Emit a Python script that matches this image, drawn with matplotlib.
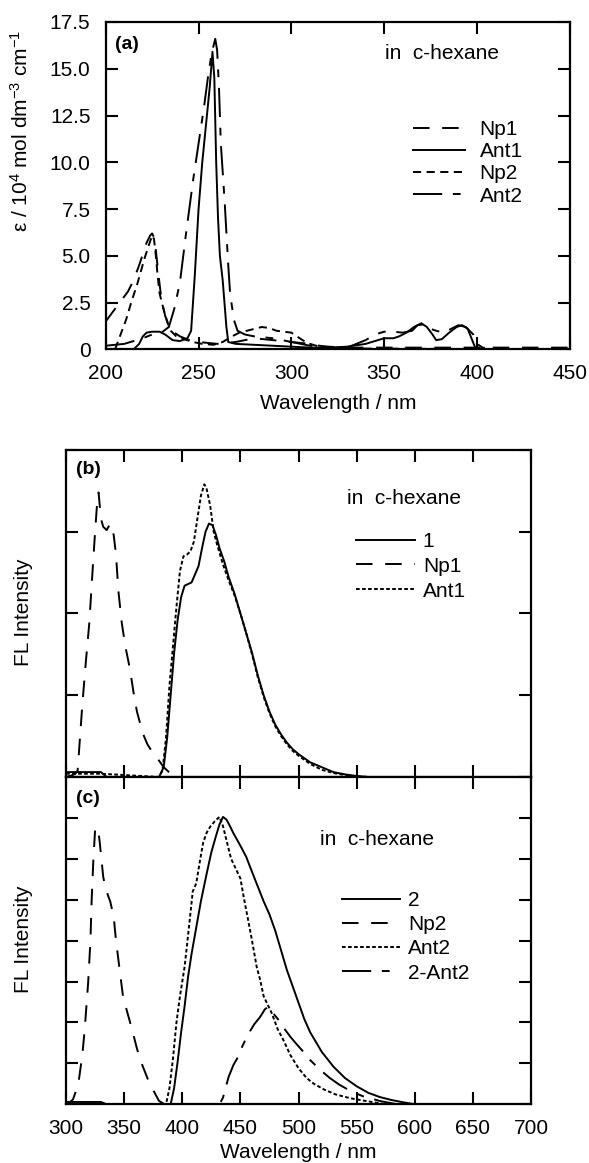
"""Absorption (a) and fluorescence (b, c) spectra in c-hexane, three stacked panels."""
import matplotlib
matplotlib.use("Agg")
import matplotlib.pyplot as plt

plt.rcParams["font.family"] = ["Liberation Sans", "DejaVu Sans"]
plt.rcParams["mathtext.fontset"] = "custom"
plt.rcParams["mathtext.rm"] = "Liberation Sans"
plt.rcParams["mathtext.it"] = "Liberation Sans:italic"

# ------------------------------------------------------------ (a) absorption
np1_a_wl = [200, 203, 206, 209, 212, 215, 218, 220, 222, 224, 225, 226, 227, 228,
            229, 230, 232, 234, 237, 240, 245, 250, 255, 260, 265, 270, 275, 280,
            285, 290, 295, 300, 305, 310, 315, 320, 330, 340, 350, 400, 450]
np1_a_eps = [1.5, 1.9, 2.3, 2.7, 3.1, 3.7, 4.5, 5.1, 5.7, 6.1, 6.2, 6.0, 5.3, 4.4,
             3.5, 2.7, 1.8, 1.3, 0.9, 0.7, 0.5, 0.4, 0.35, 0.3, 0.35, 0.4, 0.5, 0.6,
             0.55, 0.5, 0.45, 0.4, 0.35, 0.3, 0.2, 0.15, 0.1, 0.1, 0.1, 0.1, 0.1]

ant1_a_wl = [200, 215, 218, 220, 222, 225, 229, 232, 236, 240, 244, 246, 248, 250,
             252, 254, 256, 257.5, 258.5, 259.5, 260.5, 261.5, 263, 265, 266, 270,
             280, 290, 300, 310, 320, 330, 340, 345, 350, 355, 358, 362, 366, 370,
             373, 376, 378, 381, 385, 389, 392, 395, 397, 399, 405, 450]
ant1_a_eps = [0.0, 0.0, 0.3, 0.7, 0.9, 0.95, 0.95, 0.8, 0.5, 0.45, 0.6, 1.0, 4.0, 7.5,
              10.0, 12.0, 14.0, 15.9, 14.5, 10.0, 7.0, 5.0, 3.7, 1.2, 0.4, 0.3, 0.25,
              0.2, 0.15, 0.1, 0.1, 0.15, 0.3, 0.45, 0.6, 0.6, 0.7, 0.9, 1.2, 1.4, 1.2,
              0.8, 0.5, 0.55, 0.9, 1.2, 1.3, 1.1, 0.6, 0.1, 0.0, 0.0]

np2_a_wl = [205, 208, 211, 214, 217, 219, 221, 222, 224, 225, 226, 227, 228, 229,
            231, 233, 235, 238, 242, 247, 252, 258, 263, 268, 272, 276, 280, 284,
            288, 292, 296, 300, 303, 306, 310, 315, 320, 340, 450]
np2_a_eps = [0.0, 0.8, 1.6, 2.6, 3.5, 4.2, 4.9, 5.2, 5.8, 6.1, 5.9, 5.0, 3.9, 3.0,
             2.2, 1.5, 1.0, 0.7, 0.55, 0.4, 0.3, 0.25, 0.4, 0.7, 0.9, 1.0, 1.1, 1.2,
             1.15, 1.0, 0.95, 0.9, 0.7, 0.5, 0.3, 0.15, 0.1, 0.05, 0.0]

ant2_a_wl = [200, 210, 220, 225, 230, 234, 237, 240, 243, 245, 247, 250, 253, 255,
             257, 259, 260, 261, 262, 264, 266, 267, 269, 271, 275, 280, 290, 300,
             310, 320, 330, 340, 345, 350, 355, 360, 365, 368, 372, 375, 378, 382,
             386, 390, 394, 398, 400, 403, 410, 450]
ant2_a_eps = [0.2, 0.3, 0.6, 0.8, 0.9, 1.2, 2.2, 3.6, 6.0, 7.5, 9.0, 11.0, 13.0, 14.5,
              15.8, 16.6, 16.0, 14.0, 11.0, 8.0, 4.5, 3.0, 1.6, 1.0, 0.8, 0.7, 0.6, 0.4,
              0.2, 0.1, 0.1, 0.5, 0.8, 0.95, 0.95, 0.9, 1.0, 1.3, 1.35, 1.1, 1.0, 0.9,
              1.1, 1.3, 1.2, 0.8, 0.3, 0.1, 0.0, 0.0]

# ------------------------------------------------------- (b) fluorescence, 1
c1_wl = [300, 330, 335, 380, 384, 387, 390, 393, 396, 399, 402, 405, 408, 411, 414,
         417, 420, 423, 426, 429, 432, 436, 440, 445, 450, 455, 460, 465, 470, 475,
         480, 485, 490, 495, 500, 510, 520, 530, 540, 550, 560, 700]
c1_fl = [0.015, 0.015, 0.0, 0.0, 0.03, 0.12, 0.25, 0.38, 0.48, 0.55, 0.585, 0.59,
         0.595, 0.62, 0.645, 0.7, 0.75, 0.775, 0.77, 0.74, 0.7, 0.66, 0.61, 0.56,
         0.5, 0.44, 0.38, 0.31, 0.25, 0.2, 0.16, 0.13, 0.105, 0.085, 0.07, 0.045,
         0.03, 0.015, 0.008, 0.003, 0.0, 0.0]

np1_b_wl = [300, 305, 308, 310, 312, 314, 317, 320, 323, 325, 327, 328, 330, 332,
            335, 338, 341, 343, 345, 348, 351, 355, 358, 361, 366, 370, 375, 380,
            384, 390, 398, 700]
np1_b_fl = [0.0, 0.005, 0.01, 0.02, 0.12, 0.22, 0.35, 0.47, 0.64, 0.75, 0.85, 0.87,
            0.79, 0.765, 0.755, 0.775, 0.74, 0.68, 0.57, 0.47, 0.4, 0.33, 0.26, 0.2,
            0.134, 0.1, 0.072, 0.05, 0.03, 0.01, 0.0, 0.0]

ant1_b_wl = [300, 330, 380, 383, 386, 389, 392, 395, 398, 401, 404, 407, 410, 413,
             416, 419, 421, 424, 427, 430, 435, 440, 445, 450, 455, 460, 465, 470,
             475, 480, 485, 490, 495, 500, 510, 520, 530, 540, 550, 560, 700]
ant1_b_fl = [0.01, 0.01, 0.0, 0.02, 0.12, 0.28, 0.4, 0.52, 0.63, 0.675, 0.68, 0.69,
             0.72, 0.79, 0.86, 0.895, 0.88, 0.83, 0.75, 0.71, 0.65, 0.6, 0.555, 0.5,
             0.44, 0.375, 0.305, 0.245, 0.195, 0.155, 0.125, 0.1, 0.08, 0.065, 0.04,
             0.022, 0.012, 0.006, 0.002, 0.0, 0.0]

# ------------------------------------------------------- (c) fluorescence, 2
c2_wl = [300, 330, 335, 388, 390, 393, 396, 399, 402, 405, 408, 412, 416, 421, 425,
         429, 432, 435, 438, 441, 444, 450, 455, 460, 465, 470, 475, 480, 485, 490,
         495, 500, 505, 510, 515, 520, 530, 540, 550, 560, 570, 580, 590, 600, 700]
c2_fl = [0.007, 0.007, 0.0, 0.0, 0.0, 0.05, 0.13, 0.22, 0.3, 0.39, 0.46, 0.54, 0.62,
         0.705, 0.77, 0.82, 0.855, 0.878, 0.87, 0.85, 0.828, 0.79, 0.756, 0.71, 0.665,
         0.62, 0.58, 0.53, 0.47, 0.41, 0.36, 0.31, 0.26, 0.22, 0.19, 0.16, 0.115,
         0.08, 0.055, 0.035, 0.022, 0.013, 0.006, 0.0, 0.0]

np2_c_wl = [300, 303, 306, 309, 311, 314, 316, 319, 321, 322, 323.5, 325, 327.5,
            329, 332, 334, 336.5, 338, 341, 343, 346.5, 349, 352, 357, 361, 365, 370,
            375, 380, 385, 700]
np2_c_fl = [0.0, 0.005, 0.015, 0.045, 0.073, 0.15, 0.226, 0.37, 0.5, 0.62, 0.746,
            0.838, 0.846, 0.8, 0.695, 0.66, 0.634, 0.62, 0.573, 0.5, 0.4, 0.33, 0.29,
            0.226, 0.17, 0.125, 0.08, 0.043, 0.01, 0.0, 0.0]

ant2_c_wl = [300, 386, 389, 392, 395, 398, 402, 406, 409, 412, 415, 418, 421, 424,
             428, 432, 435, 438, 442, 446, 450, 453, 456, 460, 464, 467, 470, 477,
             482, 487, 493, 500, 507, 513, 522, 532, 545, 558, 575, 700]
ant2_c_fl = [0.0, 0.0, 0.05, 0.14, 0.25, 0.33, 0.42, 0.55, 0.65, 0.675, 0.74, 0.8,
             0.83, 0.848, 0.865, 0.878, 0.85, 0.807, 0.75, 0.72, 0.69, 0.63, 0.575,
             0.5, 0.42, 0.38, 0.33, 0.278, 0.23, 0.196, 0.15, 0.11, 0.08, 0.063,
             0.045, 0.03, 0.018, 0.01, 0.0, 0.0]

diff_c_wl = [400, 432, 435, 438, 440, 444, 448, 452, 457, 462, 467, 471, 474, 477,
             480, 483, 488, 493, 498, 503, 510, 519, 527, 535, 545, 555, 570, 585, 600]
diff_c_fl = [0.0, 0.0, 0.02, 0.06, 0.085, 0.12, 0.145, 0.18, 0.216, 0.245, 0.267,
             0.29, 0.298, 0.285, 0.27, 0.257, 0.23, 0.206, 0.185, 0.165, 0.135, 0.104,
             0.08, 0.06, 0.04, 0.025, 0.01, 0.0, 0.0]

# line styles (dash patterns scale with linewidth)
LW = 1.4
LONG = (0, (8.5, 6.5))
SHORT = (0, (4.2, 2.8))
DASHDOT = (0, (15, 5.5, 4, 5.5))
FINE = (0, (1.9, 1.2))
FS = 15

fig = plt.figure(figsize=(5.89, 11.63), dpi=100)
ax_a = fig.add_axes([0.1795, 0.6995, 0.788, 0.2816])
ax_b = fig.add_axes([0.1121, 0.3319, 0.7895, 0.2812])
ax_c = fig.add_axes([0.1121, 0.0505, 0.7895, 0.2814])


def frame(ax):
    for s in ax.spines.values():
        s.set_linewidth(1.6)
    ax.tick_params(direction="in", top=True, right=True, length=8.5, width=1.5,
                   labelsize=FS, color="black")
    ax.tick_params(axis="x", pad=10.5)
    ax.tick_params(axis="y", pad=11)


# ---- (a)
ax_a.plot(np1_a_wl, np1_a_eps, color="black", lw=LW, ls=LONG, label="Np1")
ax_a.plot(ant1_a_wl, ant1_a_eps, color="black", lw=LW, ls="-", label="Ant1")
ax_a.plot(np2_a_wl, np2_a_eps, color="black", lw=LW, ls=SHORT, label="Np2")
ax_a.plot(ant2_a_wl, ant2_a_eps, color="black", lw=LW, ls=DASHDOT, label="Ant2")
ax_a.set_xlim(200, 450)
ax_a.set_ylim(0, 17.5)
ax_a.set_xticks([200, 250, 300, 350, 400, 450])
yt = [0, 2.5, 5.0, 7.5, 10.0, 12.5, 15.0, 17.5]
ax_a.set_yticks(yt)
ax_a.set_yticklabels(["0"] + [f"{v:.1f}" for v in yt[1:]])
frame(ax_a)
ax_a.set_xlabel("Wavelength / nm", fontsize=FS)
ax_a.xaxis.set_label_coords(0.5, -0.135)
ax_a.set_ylabel(r"ε / 10$^4$ mol dm$^{-3}$ cm$^{-1}$", fontsize=FS)
ax_a.yaxis.set_label_coords(-0.159, 0.667)
ax_a.text(0.02, 0.93, "(a)", transform=ax_a.transAxes, fontsize=14,
          fontweight="bold", va="center", ha="left")
ax_a.text(0.602, 0.905, "in  c-hexane", transform=ax_a.transAxes, fontsize=FS,
          va="center", ha="left")
ax_a.legend(loc="upper left", bbox_to_anchor=(0.662, 0.700), frameon=False,
            fontsize=FS, handlelength=2.5, handletextpad=0.7, labelspacing=0.15,
            borderpad=0, borderaxespad=0)

# ---- (b)
ax_b.plot(c1_wl, c1_fl, color="black", lw=LW, ls="-", label="1")
ax_b.plot(np1_b_wl, np1_b_fl, color="black", lw=LW, ls=LONG, label="Np1")
ax_b.plot(ant1_b_wl, ant1_b_fl, color="black", lw=LW, ls=FINE, label="Ant1")
ax_b.set_xlim(300, 700)
ax_b.set_ylim(0, 1)
ax_b.set_xticks(range(300, 701, 50))
ax_b.set_yticks([0, 0.25, 0.5, 0.75, 1.0])
frame(ax_b)
ax_b.tick_params(labelbottom=False, labelleft=False)
ax_b.set_ylabel("FL Intensity", fontsize=FS)
ax_b.yaxis.set_label_coords(-0.071, 0.505)
ax_b.text(0.0215, 0.939, "(b)", transform=ax_b.transAxes, fontsize=14,
          fontweight="bold", va="center", ha="left")
ax_b.text(0.604, 0.852, "in  c-hexane", transform=ax_b.transAxes, fontsize=FS,
          va="center", ha="left")
ax_b.legend(loc="upper left", bbox_to_anchor=(0.624, 0.7495), frameon=False,
            fontsize=FS, handlelength=2.8, handletextpad=0.4, labelspacing=0.28,
            borderpad=0, borderaxespad=0)

# ---- (c)
ax_c.plot(c2_wl, c2_fl, color="black", lw=LW, ls="-", label="2")
ax_c.plot(np2_c_wl, np2_c_fl, color="black", lw=LW, ls=LONG, label="Np2")
ax_c.plot(ant2_c_wl, ant2_c_fl, color="black", lw=LW, ls=FINE, label="Ant2")
ax_c.plot(diff_c_wl, diff_c_fl, color="black", lw=LW, ls=DASHDOT, label="2-Ant2")
ax_c.set_xlim(300, 700)
ax_c.set_ylim(0, 1)
ax_c.set_xticks(range(300, 701, 50))
ax_c.set_yticks([i / 8 for i in range(9)])
frame(ax_c)
ax_c.tick_params(labelleft=False)
ax_c.set_xlabel("Wavelength / nm", fontsize=FS)
ax_c.xaxis.set_label_coords(0.5, -0.118)
ax_c.set_ylabel("FL Intensity", fontsize=FS)
ax_c.yaxis.set_label_coords(-0.071, 0.505)
ax_c.text(0.0215, 0.933, "(c)", transform=ax_c.transAxes, fontsize=14,
          fontweight="bold", va="center", ha="left")
ax_c.text(0.546, 0.81, "in  c-hexane", transform=ax_c.transAxes, fontsize=FS,
          va="center", ha="left")
ax_c.legend(loc="upper left", bbox_to_anchor=(0.593, 0.652), frameon=False,
            fontsize=FS, handlelength=2.8, handletextpad=0.4, labelspacing=0.25,
            borderpad=0, borderaxespad=0)

fig.savefig("out.png", dpi=100)
